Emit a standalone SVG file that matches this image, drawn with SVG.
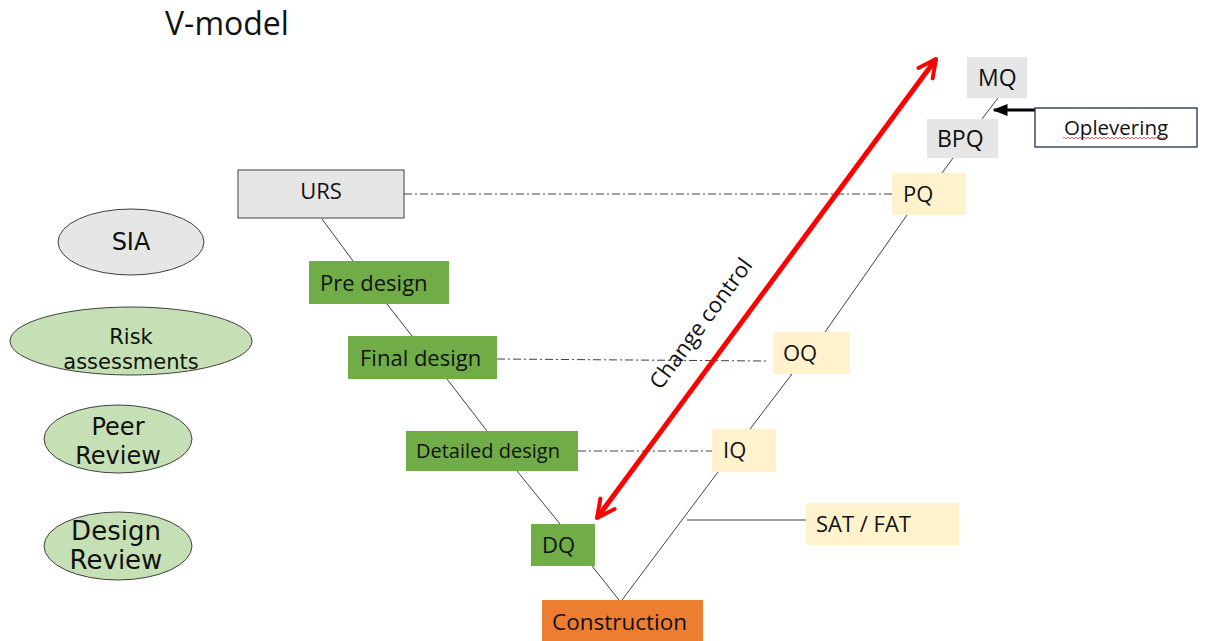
<svg xmlns="http://www.w3.org/2000/svg" width="1205" height="641" viewBox="0 0 1205 641">
<defs>
<style>
.t{font-family:"Open Sans","Noto Sans","DejaVu Sans",sans-serif;fill:#111;}
.e{font-family:"DejaVu Sans","Noto Sans",sans-serif;fill:#111;text-anchor:middle;}
.g{fill:#70ad47;}
.y{fill:#fff2cc;}
.gr{fill:#e6e6e6;}
.v{stroke:#404040;stroke-width:1;fill:none;}
.dd{stroke:#404040;stroke-width:1;fill:none;stroke-dasharray:8 3 2 3;}
.ell{stroke:#404040;stroke-width:1;}
</style>
<marker id="ah" viewBox="0 0 10 10" refX="9" refY="5" markerWidth="4.4" markerHeight="4.4" orient="auto-start-reverse" markerUnits="strokeWidth">
<path d="M1,1 L9,5 L1,9" fill="none" stroke="#ff0000" stroke-width="1.8" stroke-linecap="round" stroke-linejoin="round"/>
</marker>
<marker id="bh" viewBox="0 0 10 10" refX="9" refY="5" markerWidth="5" markerHeight="5" orient="auto" markerUnits="strokeWidth">
<path d="M0,1 L10,5 L0,9 Z" fill="#000"/>
</marker>
</defs>
<rect width="1205" height="641" fill="#fff"/>
<text class="t" x="165" y="35" font-size="32">V-model</text>

<g id="connectors">
<path class="v" d="M322,219 L353,261"/>
<path class="v" d="M387,304 L412,336"/>
<path class="v" d="M447,379 L487,431"/>
<path class="v" d="M517,471 L560,524"/>
<path class="v" d="M592,566 L619,600"/>
<path class="v" d="M622,600 L718,472"/>
<path class="v" d="M750,429 L792,374"/>
<path class="v" d="M825,332 L907,215"/>
<path class="v" d="M942,173 L953,158"/>
<path class="v" d="M982,119 L998,98"/>
<path class="v" d="M687,520 L806,520" stroke-width="1.3"/>
<path class="dd" d="M404,194 L892,194"/>
<path class="dd" d="M497,359 L766,361"/>
<path class="dd" d="M578,451 L712,451"/>
<path d="M1035,110 L994,110" stroke="#000" stroke-width="3" marker-end="url(#bh)"/>
<path d="M597,518 L936,59" stroke="#ff0000" stroke-width="5" fill="none" marker-start="url(#ah)" marker-end="url(#ah)"/>
<text class="t" font-size="22" text-anchor="middle" transform="translate(707,328) rotate(-53.5)">Change control</text>
</g>

<g id="URS"><rect class="gr" x="238" y="170" width="166" height="48" stroke="#404040" stroke-width="1"/><text class="t" x="321" y="199" font-size="22" text-anchor="middle">URS</text></g>
<g id="PreDesign"><rect class="g" x="309" y="261" width="140" height="43"/><text class="t" x="320" y="291" font-size="22">Pre design</text></g>
<g id="FinalDesign"><rect class="g" x="348" y="336" width="149" height="43"/><text class="t" x="360" y="366" font-size="22">Final design</text></g>
<g id="DetailedDesign"><rect class="g" x="406" y="431" width="172" height="40"/><text class="t" x="416" y="458" font-size="20">Detailed design</text></g>
<g id="DQ"><rect class="g" x="531" y="524" width="64" height="42"/><text class="t" x="542" y="553" font-size="22">DQ</text></g>
<g id="Construction"><rect x="542" y="600" width="161" height="41" fill="#ed7d31"/><text class="t" x="552" y="630" font-size="22.5">Construction</text></g>
<g id="IQ"><rect class="y" x="712" y="429" width="64" height="43"/><text class="t" x="723" y="458" font-size="22">IQ</text></g>
<g id="OQ"><rect class="y" x="773" y="332" width="77" height="42"/><text class="t" x="783" y="361" font-size="22">OQ</text></g>
<g id="SATFAT"><rect class="y" x="806" y="503" width="153" height="42"/><text class="t" x="816" y="532" font-size="22">SAT / FAT</text></g>
<g id="PQ"><rect class="y" x="892" y="173" width="74" height="42"/><text class="t" x="903" y="202" font-size="22">PQ</text></g>
<g id="BPQ"><rect class="gr" x="927" y="119" width="71" height="39"/><text class="t" x="937" y="147" font-size="23">BPQ</text></g>
<g id="MQ"><rect class="gr" x="967" y="57" width="60" height="41"/><text class="t" x="978" y="86" font-size="23">MQ</text></g>
<g id="Oplevering"><rect x="1035" y="108" width="162" height="39" fill="#fff" stroke="#1f2d4d" stroke-width="1.3"/><text class="t" x="1116" y="135" font-size="20.5" text-anchor="middle">Oplevering</text><path d="M1063,138 q1,-1.5 2,0 t2,0 t2,0 t2,0 t2,0 t2,0 t2,0 t2,0 t2,0 t2,0 t2,0 t2,0 t2,0 t2,0 t2,0 t2,0 t2,0 t2,0 t2,0 t2,0 t2,0 t2,0 t2,0 t2,0 t2,0 t2,0 t2,0 t2,0 t2,0 t2,0 t2,0 t2,0 t2,0 t2,0 t2,0 t2,0 t2,0 t2,0 t2,0 t2,0 t2,0 t2,0 t2,0 t2,0 t2,0 t2,0 t2,0 t2,0 t2,0 t2,0 t2,0" fill="none" stroke="#e03030" stroke-width="0.8"/></g>

<g id="SIA"><ellipse class="ell" cx="131" cy="242" rx="73" ry="33" fill="#e6e6e6"/><text class="e" x="131" y="250" font-size="24">SIA</text></g>
<g id="RiskAssessments"><ellipse class="ell" cx="131" cy="341" rx="121" ry="34" fill="#c5e0b4"/><text class="e" x="131" y="344" font-size="21">Risk</text><text class="e" x="131" y="369" font-size="21">assessments</text></g>
<g id="PeerReview"><ellipse class="ell" cx="118" cy="439" rx="74" ry="34" fill="#c5e0b4"/><text class="e" x="118" y="435" font-size="24">Peer</text><text class="e" x="118" y="464" font-size="24">Review</text></g>
<g id="DesignReview"><ellipse class="ell" cx="118" cy="546" rx="74" ry="34" fill="#c5e0b4"/><text class="e" x="116" y="540" font-size="26">Design</text><text class="e" x="116" y="569" font-size="26">Review</text></g>
</svg>
